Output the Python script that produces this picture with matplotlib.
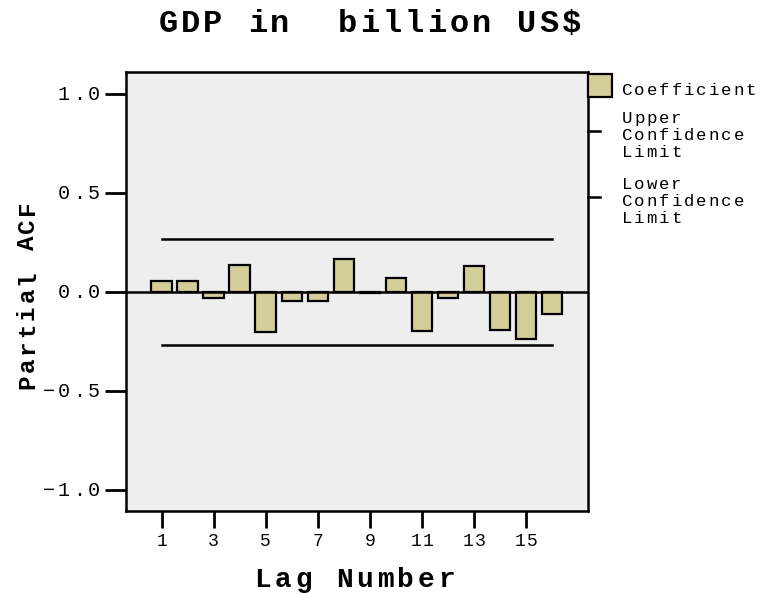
import matplotlib
matplotlib.use("Agg")
import matplotlib.pyplot as plt
from matplotlib.patches import Rectangle
from matplotlib.lines import Line2D
from matplotlib.transforms import IdentityTransform

# partial autocorrelation by lag
lags = list(range(1, 17))
pacf = [0.055, 0.055, -0.030, 0.138, -0.202, -0.045, -0.045, 0.165,
        -0.004, 0.069, -0.197, -0.030, 0.131, -0.194, -0.239, -0.111]
upper_limit = 0.27
lower_limit = -0.27

xticks = [1, 3, 5, 7, 9, 11, 13, 15]
yticks = [-1.0, -0.5, 0.0, 0.5, 1.0]
legend_labels = ["Coefficient", "Upper\nConfidence\nLimit", "Lower\nConfidence\nLimit"]

W, H = 762, 594
font = "Liberation Mono"
bar_color = "#d3ce98"

fig = plt.figure(figsize=(W / 100, H / 100), dpi=100)
ax = fig.add_axes([126 / W, 1 - 511 / H, (588 - 126) / W, (511 - 72) / H])
ax.set_facecolor("#eeeeee")


def spaced(x, y, s, adv, ha="center", rotation=0, **kw):
    """Write s one char at a time, adv pixels apart (the picture uses wide
    letter spacing). x, y in pixels from the top-left; y is the baseline."""
    n = len(s)
    if ha == "center":
        start = -(n - 1) / 2 * adv
    elif ha == "left":
        start = 0.0
    else:
        start = -(n - 1) * adv
    for i, ch in enumerate(s):
        if ch == " ":
            continue
        off = start + i * adv
        if rotation == 90:
            px, py = x, H - y + off
        else:
            px, py = x + off, H - y
        fig.text(px, py, ch, transform=IdentityTransform(), ha="center",
                 va="baseline", rotation=rotation, rotation_mode="anchor",
                 fontfamily=font, **kw)


ax.bar(lags, pacf, width=0.79, color=bar_color, edgecolor="black", linewidth=1.6, zorder=3)
ax.axhline(0, color="black", linewidth=1.8, zorder=4)
ax.plot([lags[0], lags[-1]], [upper_limit, upper_limit], color="black", linewidth=1.8, zorder=3)
ax.plot([lags[0], lags[-1]], [lower_limit, lower_limit], color="black", linewidth=1.8, zorder=3)

ax.set_xlim(-0.37, 17.38)
ax.set_ylim(-1.106, 1.111)
ax.set_xticks(xticks)
ax.set_yticks(yticks)
ax.set_xticklabels([])
ax.set_yticklabels([])
ax.tick_params(axis="x", length=12, width=2)
ax.tick_params(axis="y", length=15, width=2)
for sp in ax.spines.values():
    sp.set_linewidth(1.8)

# tick labels, placed at the axis positions of each tick
for t in xticks:
    px = ax.transData.transform((t, 0))[0]
    spaced(px, 546, str(t), 12, fontsize=13)
for t in yticks:
    py = H - ax.transData.transform((0, t))[1]
    spaced(94, py + 6, f"{t:.1f}".replace("-", "\u2212"), 15, ha="right", fontsize=14.5)

spaced(369.5, 32, "GDP in  billion US$", 22.4, fontsize=23, fontweight="bold")
spaced(354.5, 587, "Lag Number", 20.4, fontsize=20, fontweight="bold")
spaced(34, 295, "Partial ACF", 17.4, rotation=90, fontsize=17.5, fontweight="bold")

# legend drawn outside on the right
tf = fig.transFigure
fig.add_artist(Rectangle((588 / W, 1 - 97 / H), 24 / W, 23 / H, transform=tf,
                         facecolor=bar_color, edgecolor="black", linewidth=1.6))
spaced(627, 95, legend_labels[0], 12.4, ha="left", fontsize=12.5)
for y_line, y_base, label in [(131, 123, legend_labels[1]), (197, 189, legend_labels[2])]:
    fig.add_artist(Line2D([588 / W, 600 / W], [1 - y_line / H] * 2, transform=tf,
                          color="black", linewidth=1.8))
    for k, part in enumerate(label.split("\n")):
        spaced(627, y_base + 17 * k, part, 12.4, ha="left", fontsize=12.5)

fig.savefig("out.png", dpi=100)
